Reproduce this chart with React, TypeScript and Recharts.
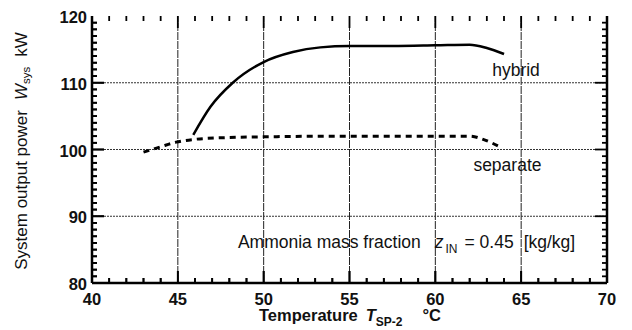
import { ComposedChart, Line, Scatter, XAxis, YAxis, ReferenceLine, ReferenceDot } from "recharts";

const hybridT = [45.9, 46.9, 48.2, 50, 51.7, 53.3, 55, 57.5, 60, 62, 63, 64];
const hybridW = [102.2, 106.4, 110, 113.1, 114.6, 115.3, 115.5, 115.5, 115.6, 115.7, 115.2, 114.3];
const separateT = [43, 44, 44.9, 45.9, 48, 50, 55, 60, 62, 62.9, 63.9];
const separateW = [99.6, 100.4, 101.1, 101.5, 101.8, 101.9, 102, 102, 102, 101.4, 100.2];

const xDomain = [40, 70];
const yDomain = [80, 120];
const xMinor = [41, 42, 43, 44, 45, 46, 47, 48, 49, 50, 51, 52, 53, 54, 55, 56, 57, 58, 59, 60, 61, 62, 63, 64, 65, 66, 67, 68, 69];
const yMinor = [
  81, 82, 83, 84, 85, 86, 87, 88, 89, 90, 91, 92, 93, 94, 95, 96, 97, 98, 99, 100,
  101, 102, 103, 104, 105, 106, 107, 108, 109, 110, 111, 112, 113, 114, 115, 116, 117, 118, 119,
];
const xLabels = [40, 45, 50, 55, 60, 65, 70];
const yLabels = [80, 90, 100, 110, 120];
const gridX = [45, 50, 55, 60, 65];
const gridY = [90, 100, 110];

const hybridData = hybridT.map((t, i) => ({ t, w: hybridW[i] }));
const separateData = separateT.map((t, i) => ({ t, w: separateW[i] }));

const W = 632;
const H = 330;
const M = { top: 16, right: 25, bottom: 47, left: 92 };
const MAJOR = 12;
const MINOR = 5;
const xLen = (t: number) => (xLabels.includes(t) ? MAJOR : MINOR);
const yLen = (w: number) => (yLabels.includes(w) ? MAJOR : MINOR);

// anchor points of the inward tick marks, placed through the axis scales
const bottomTicks = xMinor.map((t) => ({ t, w: yDomain[0] }));
const topTicks = xMinor.map((t) => ({ t, w: yDomain[1] }));
const leftTicks = yMinor.map((w) => ({ t: xDomain[0], w }));
const rightTicks = yMinor.map((w) => ({ t: xDomain[1], w }));

const FONT = "'Liberation Sans', Arial, Helvetica, sans-serif";
const txt = { fontFamily: FONT, fontSize: 17.5, fill: "#111" };

const vTick = (dir: number) => (p: any) => {
  const len = xLen(p.payload.t);
  return <line key={"v" + dir + p.index} x1={p.cx} x2={p.cx} y1={p.cy} y2={p.cy + dir * len} stroke="#000" strokeWidth={1.8} />;
};
const hTick = (dir: number) => (p: any) => {
  const len = yLen(p.payload.w);
  return <line key={"h" + dir + p.index} x1={p.cx} x2={p.cx + dir * len} y1={p.cy} y2={p.cy} stroke="#000" strokeWidth={1.8} />;
};

const XTickLabel = (props: any) => {
  const { x, y, payload } = props;
  return (
    <text x={x} y={y + 22} textAnchor="middle" {...txt} fontSize={16.5} fontWeight="bold">
      {payload.value}
    </text>
  );
};

const YTickLabel = (props: any) => {
  const { x, y, payload } = props;
  return (
    <text x={x - 5} y={y + 7} textAnchor="end" {...txt} fontSize={16.5} fontWeight="bold">
      {payload.value}
    </text>
  );
};

const frame = { stroke: "#000", strokeWidth: 2.5 };

function Titles() {
  const cx = 21;
  const cy = 151;
  return (
    <svg width={W} height={H} style={{ position: "absolute", left: 0, top: 0, pointerEvents: "none" }}>
      <text x={259} y={321} {...txt} fontSize={16.5} fontWeight="bold">
        Temperature
        <tspan fontStyle="italic" dx={8}>T</tspan>
        <tspan fontSize={12} dy={5}>SP-2</tspan>
        <tspan dy={-5} dx={20}>°C</tspan>
      </text>
      <text x={cx} y={cy} transform={`rotate(-90 ${cx} ${cy})`} textAnchor="middle" dominantBaseline="central" {...txt} fontSize={17}>
        System output power
        <tspan fontStyle="italic" dx={10}>W</tspan>
        <tspan fontSize={11.5} dy={5}>sys</tspan>
        <tspan dy={-5} dx={10}>kW</tspan>
      </text>
    </svg>
  );
}

export default function App() {
  return (
    <div style={{ position: "absolute", left: 0, top: 0, width: W, height: H, background: "#fff" }}>
      <ComposedChart width={W} height={H} margin={{ top: M.top, right: 0, bottom: 0, left: 0 }}>
        <XAxis
          xAxisId="b"
          dataKey="t"
          type="number"
          domain={xDomain}
          ticks={xLabels}
          interval={0}
          tickSize={0}
          tickMargin={0}
          tickLine={false}
          tick={XTickLabel}
          axisLine={frame}
          height={M.bottom}
        />
        <XAxis xAxisId="t" orientation="top" dataKey="t" type="number" domain={xDomain} tick={false} tickLine={false} axisLine={frame} height={0} />
        <YAxis
          yAxisId="l"
          type="number"
          domain={yDomain}
          ticks={yLabels}
          interval={0}
          tickSize={0}
          tickMargin={0}
          tickLine={false}
          tick={YTickLabel}
          axisLine={frame}
          width={M.left}
        />
        <YAxis yAxisId="r" orientation="right" type="number" domain={yDomain} tick={false} tickLine={false} axisLine={frame} width={M.right} />
        {gridX.map((v) => (
          <ReferenceLine key={"gx" + v} x={v} xAxisId="b" yAxisId="l" stroke="#222" strokeWidth={1} strokeDasharray="8 1" />
        ))}
        {gridY.map((v) => (
          <ReferenceLine key={"gy" + v} y={v} xAxisId="b" yAxisId="l" stroke="#333" strokeWidth={1} strokeDasharray="2 1" />
        ))}
        <Scatter data={bottomTicks} dataKey="w" xAxisId="b" yAxisId="l" shape={vTick(-1)} isAnimationActive={false} />
        <Scatter data={topTicks} dataKey="w" xAxisId="b" yAxisId="l" shape={vTick(1)} isAnimationActive={false} />
        <Scatter data={leftTicks} dataKey="w" xAxisId="b" yAxisId="l" shape={hTick(1)} isAnimationActive={false} />
        <Scatter data={rightTicks} dataKey="w" xAxisId="b" yAxisId="l" shape={hTick(-1)} isAnimationActive={false} />
        {/* bottom and left marks drawn again as dots of invisible lines */}
        <Line data={bottomTicks} dataKey="w" xAxisId="b" yAxisId="l" stroke="none" dot={vTick(-1)} activeDot={false} isAnimationActive={false} />
        <Line data={leftTicks} dataKey="w" xAxisId="b" yAxisId="l" stroke="none" dot={hTick(1)} activeDot={false} isAnimationActive={false} />
        <Line
          data={separateData}
          dataKey="w"
          xAxisId="b"
          yAxisId="l"
          type="monotone"
          stroke="#000"
          strokeWidth={3}
          strokeDasharray="6 5"
          dot={false}
          isAnimationActive={false}
        />
        <Line
          data={hybridData}
          dataKey="w"
          xAxisId="b"
          yAxisId="l"
          type="monotone"
          stroke="#000"
          strokeWidth={2.5}
          dot={false}
          isAnimationActive={false}
        />
        <ReferenceDot
          x={64.7}
          y={111.9}
          r={0}
          xAxisId="b"
          yAxisId="l"
          label={(p: any) => (
            <text x={p.viewBox.x} y={p.viewBox.y + 6} textAnchor="middle" {...txt}>hybrid</text>
          )}
        />
        <ReferenceDot
          x={64.2}
          y={97.7}
          r={0}
          xAxisId="b"
          yAxisId="l"
          label={(p: any) => (
            <text x={p.viewBox.x} y={p.viewBox.y + 6} textAnchor="middle" {...txt}>separate</text>
          )}
        />
        <ReferenceDot
          x={48.5}
          y={86.1}
          r={0}
          xAxisId="b"
          yAxisId="l"
          label={(p: any) => (
            <text x={p.viewBox.x} y={p.viewBox.y + 6} {...txt}>
              Ammonia mass fraction
              <tspan fontStyle="italic" dx={14}>z</tspan>
              <tspan fontSize={12} dy={5} dx={2}>IN</tspan>
              <tspan dy={-5} dx={7}>= 0.45</tspan>
              <tspan dx={10}>[kg/kg]</tspan>
            </text>
          )}
        />
      </ComposedChart>
      <Titles />
    </div>
  );
}
